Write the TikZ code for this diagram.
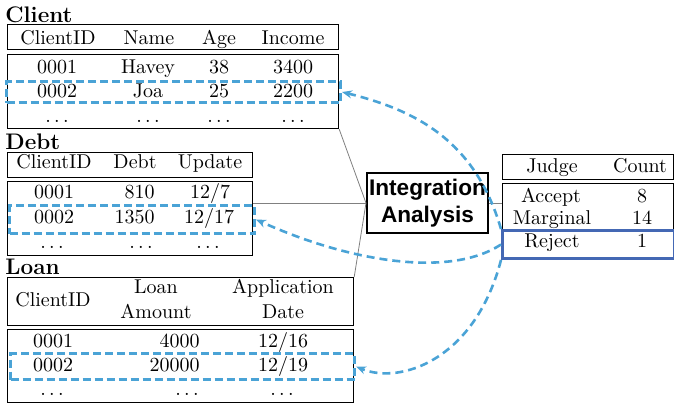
\documentclass[tikz,border=0pt]{standalone}
\usepackage{fontspec}
\usetikzlibrary{arrows.meta}
\newfontfamily\iafont{Liberation Sans}
\definecolor{flowblue}{RGB}{74,163,214}
\definecolor{rejblue}{RGB}{68,104,180}

\tikzset{
  tbox/.style={draw,line width=0.6pt,anchor=north west,inner sep=0pt},
  rowbox/.style={draw=flowblue,line width=1.5pt,dash pattern=on 4pt off 2pt,anchor=north west,inner sep=0pt},
  cell/.style={anchor=base,inner sep=0pt},
  ttl/.style={anchor=base west,inner sep=0pt,font=\fontsize{11.25}{13}\selectfont\bfseries},
  flow/.style={flowblue,line width=1.3pt,dash pattern=on 4pt off 2.5pt,-{Stealth[length=5pt,width=4pt]}},
  link/.style={gray,line width=0.4pt}
}

\begin{document}
\begin{tikzpicture}[x=0.5pt,y=-0.5pt]
  \useasboundingbox (0,0) rectangle (674,403);

  % Client
  \node[ttl] (cT) at (5,22) {Client};
  \node[tbox,minimum width=165.5pt,minimum height=12.5pt] (cHead) at (7,24) {};
  \node[tbox,minimum width=165.5pt,minimum height=37pt] (cBody) at (7,54) {};
  \node[rowbox,minimum width=167pt,minimum height=10.5pt] (cRow) at (5,80) {};
  \node[cell] (ch1) at (58,44) {ClientID};
  \node[cell] (ch2) at (149,44) {Name};
  \node[cell] (ch3) at (219,44) {Age};
  \node[cell] (ch4) at (293,44) {Income};
  \node[cell] (c11) at (57,73) {0001};
  \node[cell] (c12) at (148,73) {Havey};
  \node[cell] (c13) at (219,73) {38};
  \node[cell] (c14) at (293,73) {3400};
  \node[cell] (c21) at (57,97) {0002};
  \node[cell] (c22) at (148,97) {Joa};
  \node[cell] (c23) at (219,97) {25};
  \node[cell] (c24) at (293,97) {2200};
  \node[cell] (c31) at (57,122) {$\ldots$};
  \node[cell] (c32) at (148,122) {$\ldots$};
  \node[cell] (c33) at (219,122) {$\ldots$};
  \node[cell] (c34) at (293,122) {$\ldots$};

  % Debt
  \node[ttl] (dT) at (5,149) {Debt};
  \node[tbox,minimum width=122.5pt,minimum height=12.5pt] (dHead) at (7,152) {};
  \node[tbox,minimum width=122.5pt,minimum height=37pt] (dBody) at (7,181) {};
  \node[rowbox,minimum width=122.5pt,minimum height=14pt] (dRow) at (8,204) {};
  \node[cell] (dh1) at (54,168) {ClientID};
  \node[cell] (dh2) at (135,168) {Debt};
  \node[cell] (dh3) at (210,168) {Update};
  \node[cell] (d11) at (54,198) {0001};
  \node[cell,anchor=base east] (d12) at (155,198) {810};
  \node[cell] (d13) at (210,198) {12/7};
  \node[cell] (d21) at (54,223) {0002};
  \node[cell,anchor=base east] (d22) at (155,223) {1350};
  \node[cell] (d23) at (209,223) {12/17};
  \node[cell] (d31) at (52,248) {$\ldots$};
  \node[cell] (d32) at (141,248) {$\ldots$};
  \node[cell] (d33) at (208,248) {$\ldots$};

  % Loan
  \node[ttl] (lT) at (5,274) {Loan};
  \node[tbox,minimum width=173pt,minimum height=24pt] (lHead) at (7,277) {};
  \node[tbox,minimum width=173pt,minimum height=36.5pt] (lBody) at (7,329) {};
  \node[rowbox,minimum width=172pt,minimum height=13pt] (lRow) at (9,352) {};
  \node[cell] (lh1) at (53,306) {ClientID};
  \node[cell] (lh2) at (156,293) {Loan};
  \node[cell] (lh2b) at (156,318) {Amount};
  \node[cell] (lh3) at (283,293) {Application};
  \node[cell] (lh3b) at (283,318) {Date};
  \node[cell] (l11) at (53,347) {0001};
  \node[cell,anchor=base east] (l12) at (200,347) {4000};
  \node[cell] (l13) at (283,347) {12/16};
  \node[cell] (l21) at (53,371) {0002};
  \node[cell,anchor=base east] (l22) at (200,371) {20000};
  \node[cell] (l23) at (283,371) {12/19};
  \node[cell] (l31) at (52,395) {$\ldots$};
  \node[cell] (l32) at (187,395) {$\ldots$};
  \node[cell] (l33) at (282,395) {$\ldots$};

  % integration
  \node[draw,line width=1pt,anchor=north west,minimum width=60.5pt,minimum height=30pt,
        inner sep=0pt,align=center,font=\iafont\bfseries\fontsize{11.3}{13.5}\selectfont] (ia) at (366,172) {Integration\\Analysis};

  % Judge
  \node[tbox,minimum width=85.5pt,minimum height=12.5pt] (jHead) at (502,154) {};
  \node[tbox,minimum width=85.5pt,minimum height=37pt] (jBody) at (502,183) {};
  \node[draw=rejblue,line width=1.5pt,anchor=north west,inner sep=0pt,minimum width=86pt,minimum height=14pt] (rej) at (501,229) {};
  \node[cell] (jh1) at (552,172) {Judge};
  \node[cell] (jh2) at (640,172) {Count};
  \node[cell] (j11) at (551,202) {Accept};
  \node[cell] (j12) at (642,202) {8};
  \node[cell] (j21) at (552,224) {Marginal};
  \node[cell] (j22) at (642,224) {14};
  \node[cell] (j31) at (552,247) {Reject};
  \node[cell] (j32) at (642,247) {1};

  % links
  \draw[link] (cBody.south east) -- (ia.west);
  \draw[link] (dBody.east |- ia.west) -- (ia.west);
  \draw[link] (lHead.north east) -- (ia.west);
  \draw[link] (ia.east) -- (jBody.west |- ia.east);

  % arrows back
  \draw[flow] (rej.north west) .. controls (475,140) and (415,110) .. (cRow.east);
  \draw[flow] (rej.west) .. controls (450,278) and (350,262) .. (dRow.east);
  \draw[flow] (rej.south west) .. controls (475,360) and (400,385) .. (lRow.east);
\end{tikzpicture}
\end{document}
